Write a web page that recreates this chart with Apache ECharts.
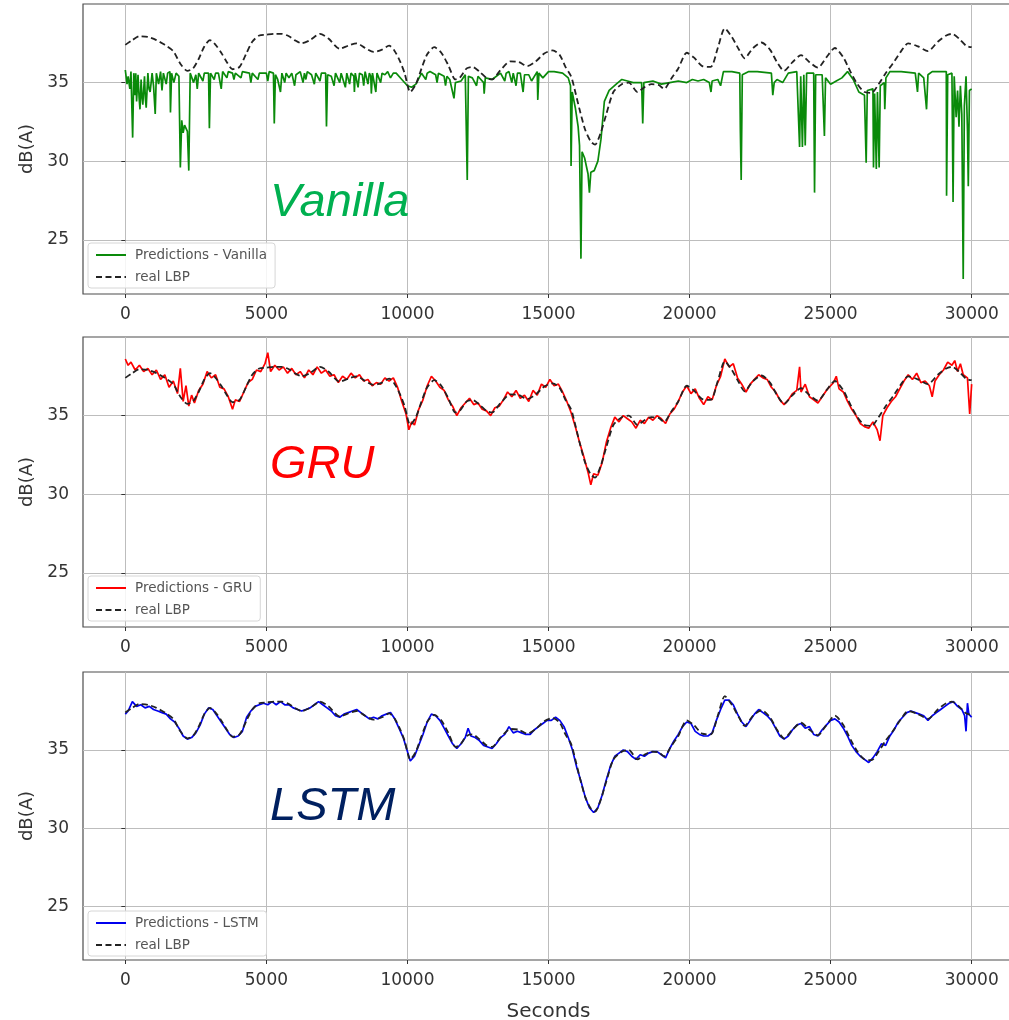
<!DOCTYPE html>
<html>
<head>
<meta charset="utf-8">
<title>LBP predictions</title>
<script src="https://cdn.jsdelivr.net/npm/echarts@6/dist/echarts.min.js"></script>
<style>
  html, body { margin: 0; padding: 0; background: #fff; }
  #chart { width: 1009px; height: 1020px; }
</style>
</head>
<body>
<div id="chart"></div>
<script>
// Measured low-frequency background level (dB(A)) against time in seconds.
const realLbp = [
  [0,37.4],[250,37.7],[500,37.95],[800,37.9],[1100,37.7],[1400,37.4],[1700,37.0],[1950,36.2],
  [2200,35.75],[2400,35.9],[2600,36.5],[2800,37.3],[3000,37.7],[3200,37.4],[3400,36.9],[3600,36.3],
  [3800,35.85],[4050,36.0],[4300,36.9],[4500,37.6],[4750,38.0],[5000,38.05],[5300,38.1],[5550,38.1],
  [5800,37.95],[6000,37.7],[6250,37.5],[6550,37.7],[6900,38.1],[7200,37.8],[7600,37.15],[7900,37.35],
  [8200,37.5],[8500,37.2],[8800,36.95],[9100,37.1],[9350,37.35],[9550,37.0],[9750,36.3],[9900,35.6],
  [10100,34.4],[10300,34.9],[10500,35.9],[10700,36.8],[10950,37.25],[11200,36.9],[11450,36.1],[11700,35.2],
  [11850,35.3],[12100,35.9],[12300,36.0],[12550,35.7],[12800,35.3],[13000,35.2],[13300,35.8],[13650,36.35],
  [13950,36.3],[14250,36.05],[14550,36.35],[14850,36.85],[15150,37.05],[15400,36.75],[15600,36.0],[15800,35.4],
  [15950,34.4],[16100,33.3],[16300,32.0],[16500,31.25],[16650,31.05],[16850,31.8],[17050,33.0],[17300,34.4],
  [17600,34.9],[17850,35.0],[18150,34.4],[18400,34.7],[18650,34.9],[18900,34.85],[19100,34.6],[19350,35.25],
  [19600,35.9],[19900,36.9],[20150,36.6],[20450,36.05],[20750,36.0],[21000,37.2],[21250,38.45],[21500,37.9],
  [21750,37.1],[21950,36.55],[22250,37.2],[22550,37.55],[22850,37.1],[23100,36.3],[23350,35.75],[23650,36.3],
  [23950,36.75],[24250,36.3],[24550,35.95],[24850,36.6],[25150,37.2],[25450,36.6],[25700,35.7],[25950,34.9],
  [26200,34.4],[26450,34.35],[26700,34.9],[26950,35.6],[27200,36.2],[27500,37.0],[27750,37.5],[28100,37.3],
  [28450,37.0],[28800,37.6],[29100,38.0],[29300,38.1],[29550,37.8],[29800,37.35],[29999,37.25]
];

// Vanilla RNN output: saturates near 35.7 dB(A) with frequent downward spikes.
const vanillaPred = [
  [0,35.8],[60,34.9],[100,35.4],[160,34.6],[200,35.7],[260,31.5],[300,35.6],[340,34.2],[370,35.6],
  [400,33.8],[450,35.5],[490,34.0],[520,33.3],[560,35.2],[590,34.1],[620,33.6],[680,35.4],[710,34.0],
  [740,33.4],[800,35.6],[840,34.6],[880,34.4],[950,35.6],[1000,34.8],[1060,33.0],[1100,35.6],[1180,34.9],
  [1250,35.7],[1300,34.5],[1350,35.6],[1450,34.9],[1500,35.6],[1580,35.7],[1600,33.1],[1640,35.6],
  [1720,35.0],[1800,35.6],[1900,35.4],[1950,29.6],[2000,32.6],[2050,31.8],[2100,32.3],[2200,31.9],
  [2250,29.4],[2300,35.6],[2420,35.0],[2500,35.5],[2550,34.6],[2600,35.6],[2750,35.1],[2800,35.6],
  [2950,35.6],[2980,32.1],[3020,35.6],[3150,35.2],[3200,35.6],[3300,35.6],[3400,34.6],[3450,35.7],
  [3600,35.3],[3650,35.7],[3800,35.6],[3850,35.2],[3900,35.6],[4100,35.3],[4150,35.7],[4400,35.6],
  [4450,35.0],[4500,35.6],[4700,35.2],[4750,35.6],[5000,35.6],[5050,35.1],[5100,35.7],[5250,35.6],
  [5280,32.4],[5320,35.5],[5400,35.2],[5500,34.4],[5550,35.6],[5650,35.0],[5700,35.6],[5800,35.3],
  [5900,35.6],[6000,34.8],[6050,35.5],[6200,35.7],[6300,35.0],[6350,35.6],[6400,35.2],[6450,35.7],
  [6600,35.5],[6700,34.9],[6750,35.6],[6900,35.1],[6950,35.6],[7100,35.6],[7130,32.2],[7170,35.5],
  [7300,35.4],[7400,34.8],[7450,35.6],[7600,35.0],[7650,35.6],[7700,35.5],[7800,34.7],[7850,35.6],
  [7950,34.9],[8000,35.6],[8100,35.4],[8120,34.4],[8150,35.6],[8250,34.7],[8300,35.6],[8400,35.5],
  [8450,34.8],[8500,35.7],[8600,34.9],[8650,35.6],[8700,35.4],[8720,34.3],[8760,35.6],[8880,34.4],
  [8920,35.6],[9050,35.0],[9100,35.6],[9200,35.5],[9300,35.7],[9400,35.3],[9500,35.6],[9600,35.6],
  [9800,35.2],[10000,34.8],[10150,34.7],[10300,34.9],[10500,35.6],[10650,35.2],[10700,35.6],[10800,35.7],
  [11000,35.5],[11050,35.0],[11100,35.6],[11300,35.4],[11350,34.8],[11400,35.4],[11500,35.2],[11650,34.0],
  [11700,35.0],[11900,35.1],[12050,35.5],[12120,28.8],[12160,35.4],[12300,35.3],[12450,34.8],[12500,35.4],
  [12700,35.0],[12720,34.3],[12760,35.3],[13000,35.2],[13300,35.6],[13450,35.1],[13500,35.6],[13600,35.7],
  [13700,35.0],[13750,35.6],[13850,34.8],[13900,35.6],[14000,35.6],[14100,34.4],[14150,35.5],[14300,35.5],
  [14400,35.1],[14600,35.7],[14620,33.9],[14660,35.6],[14800,35.3],[15000,35.7],[15200,35.7],[15500,35.6],
  [15700,35.3],[15780,34.8],[15800,29.7],[15840,34.4],[15950,33.4],[16050,32.2],[16100,31.0],[16150,23.8],
  [16190,30.6],[16280,30.2],[16400,29.2],[16450,28.0],[16500,29.3],[16620,29.4],[16750,30.0],[16860,31.4],
  [16980,33.8],[17150,34.5],[17400,34.9],[17600,35.2],[17800,35.1],[18000,35.0],[18300,35.0],[18340,32.4],
  [18380,35.0],[18700,35.1],[19000,34.9],[19300,35.0],[19600,35.1],[19900,35.0],[20100,35.2],[20300,35.1],
  [20500,35.2],[20700,35.0],[20760,34.4],[20800,35.1],[21000,35.2],[21100,34.8],[21200,35.7],[21500,35.7],
  [21780,35.6],[21800,32.0],[21830,28.8],[21870,35.5],[22100,35.7],[22400,35.7],[22900,35.6],[22950,34.2],
  [23000,35.0],[23100,35.2],[23300,35.0],[23500,35.6],[23800,35.7],[23900,30.9],[23940,35.4],[24000,30.9],
  [24050,35.5],[24100,31.0],[24150,35.6],[24400,35.6],[24430,28.0],[24470,35.5],[24700,35.5],[24780,31.6],
  [24820,35.3],[25000,34.9],[25200,35.1],[25400,35.3],[25600,35.7],[25800,35.2],[26000,34.4],[26200,34.2],
  [26260,29.9],[26300,34.5],[26500,34.6],[26520,29.6],[26560,34.3],[26620,29.5],[26660,34.4],[26720,29.6],
  [26760,34.8],[26900,35.0],[26920,33.3],[26960,35.3],[27100,35.7],[27500,35.7],[28000,35.6],[28080,34.4],
  [28120,35.6],[28300,35.3],[28400,33.3],[28450,35.5],[28600,35.7],[29000,35.7],[29100,35.7],[29110,27.8],
  [29150,35.5],[29300,35.6],[29340,27.4],[29380,35.4],[29450,32.8],[29500,34.5],[29550,32.2],[29600,34.8],
  [29650,33.0],[29700,22.5],[29740,33.5],[29800,35.4],[29850,32.0],[29880,28.4],[29920,34.5],[29999,34.6]
];

// GRU output: follows the measured level with visible jitter.
const gruPred = [
  [0,38.6],[100,38.2],[200,38.4],[350,37.9],[500,38.2],[650,37.8],[800,38.0],[950,37.6],[1100,37.9],
  [1250,37.3],[1400,37.6],[1550,36.8],[1700,37.2],[1850,36.4],[1950,38.0],[2050,35.9],[2150,36.9],
  [2250,35.6],[2350,36.3],[2450,35.8],[2600,36.6],[2750,37.0],[2900,37.8],[3050,37.4],[3200,37.6],
  [3350,36.8],[3500,36.7],[3650,36.2],[3800,35.4],[3900,36.0],[4050,35.9],[4200,36.5],[4350,37.1],
  [4500,37.3],[4650,37.9],[4800,37.8],[4950,38.3],[5050,39.0],[5150,37.8],[5300,38.2],[5450,37.9],
  [5600,38.1],[5750,37.7],[5900,38.0],[6050,37.6],[6200,37.8],[6350,37.4],[6500,37.9],[6650,37.6],
  [6800,38.1],[6950,37.7],[7100,37.9],[7250,37.5],[7400,37.6],[7550,37.1],[7700,37.5],[7850,37.3],
  [8000,37.7],[8150,37.4],[8300,37.6],[8450,37.2],[8600,37.3],[8750,36.9],[8900,37.1],[9050,37.0],
  [9200,37.4],[9350,37.2],[9500,37.4],[9650,36.8],[9800,35.9],[9950,35.1],[10050,34.1],[10150,34.6],
  [10250,34.4],[10400,35.4],[10550,36.0],[10700,36.9],[10850,37.5],[11000,37.2],[11150,36.8],[11300,36.6],
  [11450,36.0],[11600,35.6],[11750,35.0],[11900,35.5],[12050,35.8],[12200,36.1],[12350,35.7],[12500,35.8],
  [12650,35.4],[12800,35.3],[12950,35.0],[13100,35.5],[13250,35.6],[13400,36.0],[13550,36.5],[13700,36.2],
  [13850,36.6],[14000,36.1],[14150,36.3],[14300,35.9],[14450,36.6],[14600,36.3],[14750,37.0],[14900,36.8],
  [15050,37.3],[15200,36.9],[15350,37.0],[15500,36.5],[15650,35.9],[15800,35.2],[15950,34.3],[16100,33.3],
  [16250,32.4],[16400,31.4],[16500,30.6],[16600,31.3],[16750,31.2],[16900,32.0],[17050,33.3],[17200,34.2],
  [17350,34.9],[17500,34.6],[17650,35.0],[17800,34.8],[17950,34.6],[18100,34.2],[18250,34.7],[18400,34.5],
  [18550,34.9],[18700,34.7],[18850,35.0],[19000,34.8],[19150,34.5],[19300,35.1],[19450,35.4],[19600,35.9],
  [19750,36.5],[19900,36.9],[20050,36.4],[20200,36.7],[20350,36.1],[20500,35.7],[20650,36.2],[20800,36.0],
  [20950,36.9],[21100,37.5],[21250,38.6],[21400,38.1],[21550,38.3],[21700,37.4],[21850,37.0],[22000,36.5],
  [22150,37.0],[22300,37.3],[22450,37.6],[22600,37.4],[22750,37.3],[22900,36.8],[23050,36.5],[23200,36.0],
  [23350,35.7],[23500,36.0],[23650,36.4],[23800,36.6],[23900,38.1],[23950,36.5],[24100,37.0],[24250,36.2],
  [24400,36.0],[24550,35.8],[24700,36.2],[24850,36.6],[25000,36.9],[25100,37.1],[25200,37.5],[25300,36.7],
  [25450,36.5],[25600,35.9],[25750,35.4],[25900,35.0],[26050,34.5],[26200,34.3],[26350,34.2],[26500,34.6],
  [26650,34.1],[26750,33.4],[26850,35.0],[27000,35.5],[27150,35.9],[27300,36.2],[27450,36.7],[27600,37.2],
  [27750,37.6],[27900,37.3],[28050,37.7],[28200,37.1],[28350,37.2],[28500,36.9],[28600,36.2],[28700,37.2],
  [28850,37.6],[29000,37.9],[29150,38.4],[29300,38.2],[29400,38.5],[29500,37.8],[29600,38.3],[29700,37.6],
  [29850,37.4],[29930,35.1],[29999,37.0]
];

// LSTM output: the closest fit to the measured level.
const lstmPred = [
  [0,37.3],[100,37.5],[250,38.1],[400,37.8],[550,37.9],[700,37.7],[850,37.8],[1000,37.6],[1150,37.5],
  [1300,37.4],[1450,37.3],[1600,37.0],[1750,36.8],[1900,36.4],[2050,35.9],[2200,35.7],[2350,35.8],
  [2500,36.1],[2650,36.6],[2800,37.3],[2950,37.7],[3100,37.6],[3250,37.2],[3400,36.8],[3550,36.4],
  [3700,36.0],[3850,35.8],[4000,35.9],[4150,36.2],[4300,37.1],[4450,37.5],[4600,37.8],[4750,37.9],
  [4900,38.0],[5050,37.9],[5200,38.1],[5350,37.9],[5500,38.1],[5650,37.9],[5800,37.9],[5950,37.7],
  [6100,37.6],[6250,37.5],[6400,37.6],[6550,37.7],[6700,37.9],[6850,38.1],[7000,37.9],[7150,37.7],
  [7300,37.5],[7450,37.2],[7600,37.1],[7750,37.3],[7900,37.4],[8050,37.5],[8200,37.6],[8350,37.4],
  [8500,37.2],[8650,37.0],[8800,37.1],[8950,37.0],[9100,37.2],[9250,37.3],[9400,37.4],[9550,37.0],
  [9700,36.4],[9850,35.8],[10000,34.9],[10100,34.3],[10250,34.6],[10400,35.3],[10550,36.0],[10700,36.8],
  [10850,37.3],[11000,37.2],[11150,36.9],[11300,36.4],[11450,35.9],[11600,35.4],[11750,35.1],[11900,35.4],
  [12050,35.8],[12150,36.4],[12250,35.9],[12400,35.8],[12550,35.6],[12700,35.3],[12850,35.2],[13000,35.1],
  [13150,35.4],[13300,35.8],[13450,36.0],[13600,36.5],[13750,36.1],[13900,36.2],[14050,36.1],[14200,36.0],
  [14350,36.0],[14500,36.3],[14650,36.5],[14800,36.7],[14950,36.9],[15100,36.9],[15250,37.1],[15400,36.9],
  [15550,36.5],[15700,35.8],[15850,35.0],[16000,33.9],[16150,33.0],[16300,32.0],[16450,31.3],[16600,31.0],
  [16750,31.3],[16900,32.1],[17050,33.1],[17200,34.0],[17350,34.6],[17500,34.8],[17650,35.0],[17800,34.9],
  [17950,34.6],[18100,34.4],[18250,34.7],[18400,34.6],[18550,34.8],[18700,34.9],[18850,34.9],[19000,34.7],
  [19150,34.5],[19300,35.1],[19450,35.6],[19600,36.0],[19750,36.5],[19900,36.8],[20050,36.7],[20200,36.2],
  [20350,36.0],[20500,35.9],[20650,35.9],[20800,36.1],[20950,36.9],[21100,37.6],[21250,38.2],[21400,38.2],
  [21550,37.9],[21700,37.3],[21850,36.8],[22000,36.5],[22150,36.9],[22300,37.3],[22450,37.6],[22600,37.4],
  [22750,37.2],[22900,36.9],[23050,36.4],[23200,35.9],[23350,35.7],[23500,35.9],[23650,36.3],[23800,36.6],
  [23950,36.7],[24100,36.4],[24250,36.5],[24400,36.0],[24550,35.9],[24700,36.3],[24850,36.6],[25000,36.9],
  [25150,37.0],[25300,36.8],[25450,36.4],[25600,35.9],[25750,35.3],[25900,34.9],[26050,34.6],[26200,34.4],
  [26350,34.2],[26500,34.5],[26650,34.9],[26800,35.4],[26950,35.3],[27100,35.9],[27250,36.3],[27400,36.8],
  [27550,37.1],[27700,37.4],[27850,37.5],[28000,37.4],[28150,37.3],[28300,37.2],[28450,36.9],[28600,37.2],
  [28750,37.4],[28900,37.6],[29050,37.8],[29200,38.0],[29350,38.1],[29500,37.8],[29650,37.6],[29750,37.2],
  [29800,36.2],[29850,38.0],[29900,37.3],[29999,37.1]
];

const secondTicks = [0, 5000, 10000, 15000, 20000, 25000, 30000];
const dbTicks = [25, 30, 35];

const panels = [
  { model: 'Vanilla', label: 'Predictions - Vanilla', data: vanillaPred, color: '#0a8a0a', titleColor: '#00b050' },
  { model: 'GRU',     label: 'Predictions - GRU',     data: gruPred,     color: '#ff0000', titleColor: '#ff0000' },
  { model: 'LSTM',    label: 'Predictions - LSTM',    data: lstmPred,    color: '#0000ee', titleColor: '#002060' }
];

const gridTops = [4, 337, 672];
const gridHeights = [290, 290, 288];
const tickFont = { fontFamily: 'DejaVu Sans', fontSize: 17, color: '#333' };

const grid = [], xAxis = [], yAxis = [], series = [], legend = [], graphic = [];

panels.forEach((p, i) => {
  grid.push({
    left: 83, right: -5, top: gridTops[i], height: gridHeights[i],
    outerBoundsMode: 'none', containLabel: false,
    show: true, borderColor: '#4d4d4d', borderWidth: 1.2, backgroundColor: 'transparent'
  });
  xAxis.push({
    type: 'value', gridIndex: i, min: -1500, max: 31500,
    axisLine: { show: false },
    axisTick: { show: true, customValues: secondTicks, length: 4, lineStyle: { color: '#333' } },
    axisLabel: { customValues: secondTicks, margin: 12, formatter: v => String(v), ...tickFont },
    splitLine: { show: true, lineStyle: { color: '#bdbdbd', width: 1 } },
    name: i === 2 ? 'Seconds' : '',
    nameLocation: 'middle', nameGap: 42,
    nameTextStyle: { fontFamily: 'DejaVu Sans', fontSize: 20, color: '#333' }
  });
  yAxis.push({
    type: 'value', gridIndex: i, min: 21.55, max: 40.0,
    axisLine: { show: false },
    axisTick: { show: true, customValues: dbTicks, length: 4, lineStyle: { color: '#333' } },
    axisLabel: { customValues: dbTicks, margin: 14, formatter: v => String(v), ...tickFont },
    splitLine: { show: true, lineStyle: { color: '#bdbdbd', width: 1 } },
    name: 'dB(A)', nameLocation: 'middle', nameGap: 36, nameRotate: 90,
    nameTextStyle: { fontFamily: 'DejaVu Sans', fontSize: 18, color: '#333' }
  });
  series.push({
    name: p.label, type: 'line', xAxisIndex: i, yAxisIndex: i, data: p.data,
    symbol: 'none', lineStyle: { color: p.color, width: 1.7 }, itemStyle: { color: p.color },
    animation: false, z: 2
  });
  series.push({
    name: 'real LBP', type: 'line', xAxisIndex: i, yAxisIndex: i, data: realLbp,
    symbol: 'none', smooth: 0.25,
    lineStyle: { color: '#222', width: 1.8, type: [6, 3.5] }, itemStyle: { color: '#222' },
    animation: false, z: 3
  });
  legend.push({
    data: [p.label, 'real LBP'], orient: 'vertical', left: 88, top: gridTops[i] + 239,
    itemWidth: 30, itemHeight: 12, itemGap: 8,
    itemStyle: { opacity: 0 },
    backgroundColor: 'rgba(255,255,255,0.85)', borderColor: '#d6d6d6', borderWidth: 1, borderRadius: 3,
    padding: [5, 8, 4, 7],
    textStyle: { fontFamily: 'DejaVu Sans', fontSize: 13.5, color: '#555', padding: [0, 0, 0, 4] },
    selectedMode: false
  });
  graphic.push({
    type: 'text', left: 270, top: [179, 441, 783][i], z: 10,
    style: {
      text: p.model, fill: p.titleColor,
      font: 'italic 47px "Liberation Sans", Arial, sans-serif'
    }
  });
});

const chart = echarts.init(document.getElementById('chart'), null, { renderer: 'canvas' });
chart.setOption({
  backgroundColor: '#ffffff',
  animation: false,
  grid, xAxis, yAxis, series, legend, graphic
});
</script>
</body>
</html>
